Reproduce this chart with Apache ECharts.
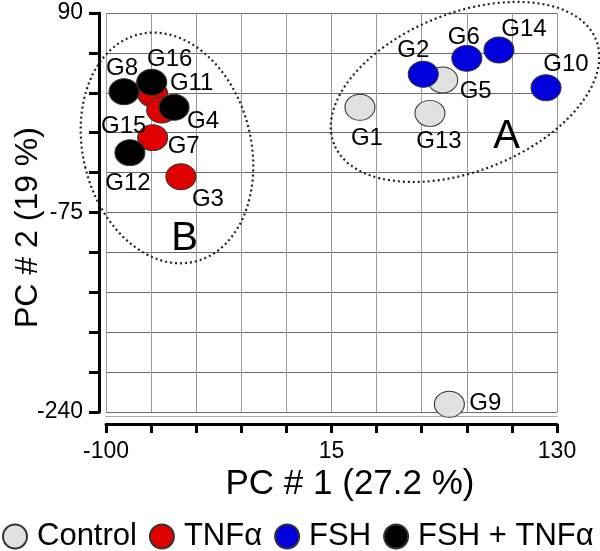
<!DOCTYPE html>
<html>
<head>
<meta charset="utf-8">
<script src="https://cdn.jsdelivr.net/npm/echarts@6/dist/echarts.min.js"></script>
<style>
html,body{margin:0;padding:0;background:#fff;}
#chart{width:600px;height:551px;}
</style>
</head>
<body>
<div id="chart"></div>
<script>
// ---- data ----
const controlNames = ['G1', 'G5', 'G9', 'G13'];
const controlX = [29.5, 71.7, 75.1, 65.2];
const controlY = [12.0, 34.6, -233.6, 7.0];

const tnfNames = ['G3', 'G7', 'G11', 'G15'];
const tnfX = [-61.8, -76.2, -76.2, -71.6];
const tnfY = [-45.4, -13.1, 23.0, 9.8];

const fshNames = ['G2', 'G6', 'G10', 'G14'];
const fshX = [61.8, 84.0, 124.4, 100.4];
const fshY = [39.3, 52.5, 28.2, 59.4];

const bothNames = ['G4', 'G8', 'G12', 'G16'];
const bothX = [-65.3, -90.8, -87.8, -76.7];
const bothY = [12.0, 24.9, -25.5, 32.7];

const seriesNames = ['Control', 'TNF\u03b1', 'FSH', 'FSH + TNF\u03b1'];
const xTickLabels = [-100, 15, 130];
const yTickLabels = [90, -75, -240];
const xTitle = 'PC # 1 (27.2 %)';
const yTitle = 'PC # 2 (19 %)';
const groupLabels = ['A', 'B'];

// ---- styles (not data) ----
const FONT = 'Liberation Sans, Arial, Helvetica, sans-serif';
const colors = ['#e1e1e1', '#e10000', '#0000dc', '#000000'];
const labelOffsets = {
  G8: [-2, -23], G16: [18, -23], G11: [39, -11], G15: [-38, 16], G4: [29, 14],
  G7: [31, 9], G12: [-2, 31], G3: [27, 23], G1: [7, 31], G13: [9, 28],
  G2: [-10, -24], G5: [33, 11], G6: [-3, -21], G14: [25, -21], G10: [20, -23], G9: [36, -1]
};
const ellipsePath = 'path://M50,0 A50,50 0 1,1 50,100 A50,50 0 1,1 50,0 Z';

function buildData(names, xs, ys) {
  return names.map((n, i) => ({
    name: n,
    value: [xs[i], ys[i]],
    label: { offset: labelOffsets[n] }
  }));
}

const groups = [
  buildData(controlNames, controlX, controlY),
  buildData(tnfNames, tnfX, tnfY),
  buildData(fshNames, fshX, fshY),
  buildData(bothNames, bothX, bothY)
];

const chart = echarts.init(document.getElementById('chart'), null, { renderer: 'canvas' });

const option = {
  animation: false,
  backgroundColor: '#fff',
  textStyle: { fontFamily: FONT },
  grid: { left: 106, right: 43, top: 13, bottom: 139, containLabel: false, outerBoundsMode: 'none' },
  legend: {
    left: 2, top: 521, padding: 0,
    icon: 'circle',
    itemWidth: 24, itemHeight: 24,
    itemGap: 12, itemTextGap: 16,
    textStyle: { fontSize: 31, lineHeight: 30, color: '#000', fontFamily: FONT, padding: [0, 0, 0, 5] },
    data: seriesNames
  },
  xAxis: [{
    type: 'value', min: -100, max: 130, interval: 23,
    position: 'bottom', offset: 12,
    axisLine: { show: true, onZero: false, lineStyle: { color: '#000', width: 3 } },
    axisTick: { show: true, length: 9, lineStyle: { color: '#000', width: 3 } },
    axisLabel: {
      fontSize: 23, color: '#000', margin: 16, fontFamily: FONT,
      formatter: v => xTickLabels.some(t => Math.abs(t - v) < 1e-6) ? String(Math.round(v)) : ''
    },
    splitLine: { show: true, lineStyle: { color: '#9a9a9a', width: 1 } },
    name: xTitle, nameLocation: 'middle', nameGap: 43, nameMoveOverlap: false,
    nameTextStyle: { fontSize: 35, color: '#000', fontFamily: FONT, padding: [0, 0, 0, 37] }
  }, {
    type: 'value', min: -100, max: 130, interval: 23,
    position: 'bottom', offset: 4,
    axisLine: { show: true, onZero: false, lineStyle: { color: '#aaa', width: 1 } },
    axisTick: { show: false }, axisLabel: { show: false }, splitLine: { show: false }
  }],
  yAxis: {
    type: 'value', min: -240, max: 90, interval: 33,
    position: 'left', offset: 7,
    axisLine: { show: true, onZero: false, lineStyle: { color: '#000', width: 3 } },
    axisTick: { show: true, length: 10, lineStyle: { color: '#000', width: 3 } },
    axisLabel: {
      fontSize: 23, color: '#000', margin: 16, fontFamily: FONT,
      formatter: v => yTickLabels.some(t => Math.abs(t - v) < 1e-6) ? String(Math.round(v)) : ''
    },
    splitLine: { show: true, lineStyle: { color: '#6a6a6a', width: 1 } },
    name: yTitle, nameLocation: 'middle', nameGap: 55, nameMoveOverlap: false,
    nameTextStyle: { fontSize: 32, color: '#000', fontFamily: FONT, padding: [0, 30, 0, 0] }
  },
  series: groups.map((d, i) => ({
    name: seriesNames[i],
    type: 'scatter',
    xAxisIndex: 0, yAxisIndex: 0,
    symbol: ellipsePath,
    symbolSize: [30, 26],
    symbolKeepAspect: false,
    itemStyle: { color: colors[i], borderColor: '#333', borderWidth: 1, opacity: 1 },
    label: {
      show: true, position: 'inside',
      formatter: p => p.name,
      fontSize: 24, color: '#000', fontFamily: FONT
    },
    emphasis: { disabled: true },
    z: 3 + i,
    data: d
  }))
};

chart.setOption(option);

// annotations: dotted group ellipses and group letters, anchored in data space
const toPx = p => chart.convertToPixel({ xAxisIndex: 0, yAxisIndex: 0 }, p);
const ellA = toPx([83.1, 24.7]);
const ellB = toPx([-68.9, -21.6]);
const letA = toPx([104.3, -12.6]);
const letB = toPx([-59.9, -96.9]);
const dotted = { fill: null, stroke: '#222', lineWidth: 2.2, lineDash: [2, 3] };

chart.setOption({
  graphic: [
    { type: 'ellipse', x: ellA[0], y: ellA[1], rotation: 21.7 * Math.PI / 180,
      shape: { cx: 0, cy: 0, rx: 141, ry: 79 }, style: dotted, z: 10, silent: true },
    { type: 'ellipse', x: ellB[0], y: ellB[1], rotation: 14 * Math.PI / 180,
      shape: { cx: 0, cy: 0, rx: 84, ry: 117 }, style: dotted, z: 10, silent: true },
    { type: 'text', x: letA[0], y: letA[1], z: 10, silent: true,
      style: { text: groupLabels[0], font: '40px ' + FONT, fill: '#000', align: 'center', verticalAlign: 'middle' } },
    { type: 'text', x: letB[0], y: letB[1], z: 10, silent: true,
      style: { text: groupLabels[1], font: '40px ' + FONT, fill: '#000', align: 'center', verticalAlign: 'middle' } }
  ]
});
</script>
</body>
</html>
